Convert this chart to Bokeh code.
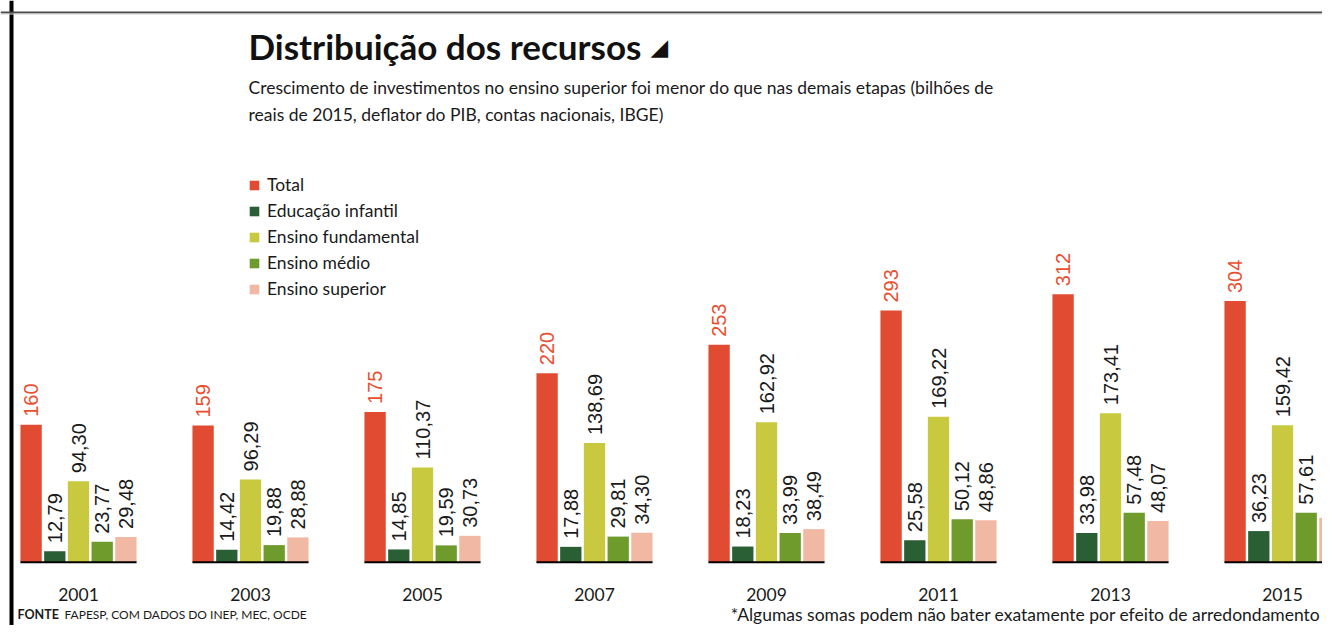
import math
from bokeh.plotting import figure
from bokeh.models import ColumnDataSource, Range1d, Label, Legend, LegendItem, Span
from bokeh.core.properties import value
from bokeh.embed import file_html
from bokeh.resources import INLINE

# ---------------- data ----------------
years = ["2001", "2003", "2005", "2007", "2009", "2011", "2013", "2015"]
total = [160, 159, 175, 220, 253, 293, 312, 304]
infantil = [12.79, 14.42, 14.85, 17.88, 18.23, 25.58, 33.98, 36.23]
fundamental = [94.30, 96.29, 110.37, 138.69, 162.92, 169.22, 173.41, 159.42]
medio = [23.77, 19.88, 19.59, 29.81, 33.99, 50.12, 57.48, 57.61]
superior = [29.48, 28.88, 30.73, 34.30, 38.49, 48.86, 48.07, 51.58]
series_names = ["Total", "Educação infantil", "Ensino fundamental", "Ensino médio", "Ensino superior"]
series_values = [total, infantil, fundamental, medio, superior]
colors = ["#e04b32", "#2a5f35", "#c9c93f", "#6e9b2c", "#f1b8a3"]

# ---------------- layout ----------------
W, H = 1322, 625
PX = 172.0      # pixels per group
PY = 0.859      # pixels per value unit
X0 = 78.0       # pixel x of first group centre
Y0 = 561.7      # pixel y (from top) of bar baseline
PITCH = 23.7 / PX
BW = 21.3 / PX

p = figure(width=W, height=H, output_backend="svg", toolbar_location=None,
           x_range=Range1d(-X0 / PX, (W - X0) / PX),
           y_range=Range1d(-(H - Y0) / PY, Y0 / PY),
           x_axis_location=None, y_axis_location=None, min_border=0)
p.grid.visible = False
p.outline_line_color = None
p.background_fill_color = "white"

idx = list(range(len(years)))

renderers = []
for j, (name, vals, col) in enumerate(zip(series_names, series_values, colors)):
    xs = [i + (j - 2) * PITCH for i in idx]
    if j == 0:
        labels = [f"{v:d}" for v in vals]
    else:
        labels = [f"{v:.2f}".replace(".", ",") for v in vals]
    src = ColumnDataSource(dict(x=xs, top=vals, label=labels))
    r = p.vbar(x="x", top="top", bottom=0, width=BW, source=src,
               fill_color=col, line_color=None)
    renderers.append(r)
    p.text(x="x", y="top", text="label", source=src, angle=math.pi / 2,
           text_align="left", text_baseline="middle", y_offset=-8,
           text_font=value("Liberation Sans"), text_font_size="20px",
           text_color="#e94e2f" if j == 0 else "#1a1a1a")

# baseline under each group
half = (2 * PITCH + BW / 2)
p.segment(x0=[i - half for i in idx], x1=[i + half for i in idx],
          y0=[0] * len(idx), y1=[0] * len(idx), line_color="black", line_width=2)

# year labels
p.text(x=idx, y=[0] * len(idx), text=years, text_align="center",
       text_baseline="alphabetic", y_offset=32,
       text_font=value("Lato"), text_font_size="17.5px", text_color="#1a1a1a")

# legend
legend = Legend(items=[LegendItem(label=n, renderers=[r]) for n, r in zip(series_names, renderers)],
                location=(248, 326), glyph_width=12, glyph_height=12, label_standoff=7,
                spacing=5, padding=0, margin=0, label_height=21,
                border_line_color=None, background_fill_alpha=0,
                label_text_font="Lato", label_text_font_size="17.5px",
                label_text_color="#1a1a1a")
p.add_layout(legend)

# frame lines (left thick black, top grey)
p.add_layout(Span(location=-X0 / PX + 11 / PX, dimension="height", line_color="black", line_width=4))
p.add_layout(Span(location=Y0 / PY - 12 / PY, dimension="width", line_color="#4a4a4a", line_width=2))
p.add_layout(Span(location=Y0 / PY - 13.5 / PY, dimension="width", line_color="#d0d0d0", line_width=1))

def sy(top):
    return H - top

# title and texts
p.add_layout(Label(x=248, y=sy(45), x_units="screen", y_units="screen",
                   text="Distribuição dos recursos", text_font="Lato", text_font_style="bold",
                   text_font_size="35px", text_color="#111111", text_baseline="alphabetic"))
p.add_layout(Label(x=650, y=sy(46), x_units="screen", y_units="screen",
                   text="◢", text_font="DejaVu Sans", text_font_size="23px",
                   text_color="#111111", text_baseline="alphabetic"))
p.add_layout(Label(x=248, y=sy(87), x_units="screen", y_units="screen",
                   text="Crescimento de investimentos no ensino superior foi menor do que nas demais etapas (bilhões de",
                   text_font="Lato", text_font_size="17.5px", text_color="#1a1a1a",
                   text_baseline="alphabetic"))
p.add_layout(Label(x=248, y=sy(114), x_units="screen", y_units="screen",
                   text="reais de 2015, deflator do PIB, contas nacionais, IBGE)",
                   text_font="Lato", text_font_size="17.5px", text_color="#1a1a1a",
                   text_baseline="alphabetic"))
p.add_layout(Label(x=17, y=sy(614), x_units="screen", y_units="screen",
                   text="FONTE", text_font="Lato", text_font_style="bold",
                   text_font_size="12.5px", text_color="#1a1a1a", text_baseline="alphabetic"))
p.add_layout(Label(x=64, y=sy(614), x_units="screen", y_units="screen",
                   text="FAPESP, COM DADOS DO INEP, MEC, OCDE", text_font="Lato",
                   text_font_size="12px", text_color="#1a1a1a", text_baseline="alphabetic"))
p.add_layout(Label(x=1320, y=sy(614), x_units="screen", y_units="screen",
                   text="*Algumas somas podem não bater exatamente por efeito de arredondamento",
                   text_font="Lato", text_font_size="17.5px", text_color="#1a1a1a",
                   text_align="right", text_baseline="alphabetic"))

open("out.html", "w").write(file_html(p, INLINE))
